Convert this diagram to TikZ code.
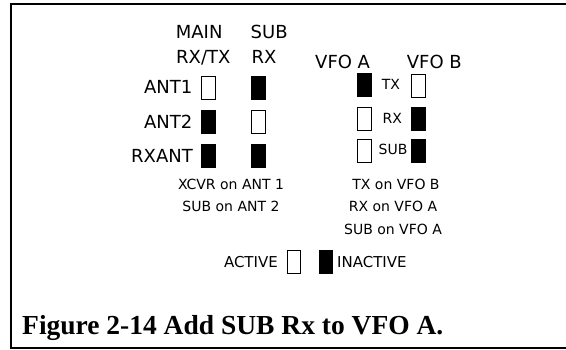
\documentclass[tikz,border=0pt]{standalone}
\usepackage{fontspec}
\setmainfont{DejaVu Sans}
\newfontfamily\capfont{Liberation Serif}
\begin{document}
\begin{tikzpicture}[x=1pt,y=1pt,
  big/.style={inner sep=0pt,font=\fontsize{18}{20}\selectfont},
  small/.style={inner sep=0pt,font=\fontsize{14}{16}\selectfont},
  mid/.style={inner sep=0pt,font=\fontsize{15}{17}\selectfont},
  onbox/.style={draw=black,line width=1pt,fill=white,minimum width=13.5pt,minimum height=23pt,inner sep=0pt},
  offbox/.style={draw=black,line width=1pt,fill=black,minimum width=13.5pt,minimum height=23pt,inner sep=0pt}]
\useasboundingbox (0,0) rectangle (566,350);
\fill[white] (0,0) rectangle (566,350);
% frame
\draw[line width=2.7pt] (566,346) -- (11,346) -- (11,2) -- (566,2);
% headers
\node[big,anchor=base west] (main) at (175.7,311.7) {MAIN};
\node[big,anchor=base west] (rxtx) at (176,286.7) {RX/TX};
\node[big,anchor=base west] (subh) at (250.5,311.7) {SUB};
\node[big,anchor=base west] (rxh) at (251.5,286.7) {RX};
\node[big,anchor=base west] (vfoa) at (315,281.7) {VFO A};
\node[big,anchor=base west] (vfob) at (406.7,281.7) {VFO B};
% row labels
\node[big,anchor=base east] (ant1) at (192.5,256.7) {ANT1};
\node[big,anchor=base east] (ant2) at (192.5,221.5) {ANT2};
\node[big,anchor=base east] (rxant) at (193,187.5) {RXANT};
% antenna boxes
\node[onbox]  (m1) at (208.3,261.7) {};
\node[offbox] (m2) at (208.3,227.5) {};
\node[offbox] (m3) at (208.3,194.2) {};
\node[offbox] (s1) at (258.3,261.7) {};
\node[onbox]  (s2) at (258.3,227.5) {};
\node[offbox] (s3) at (258.3,194.2) {};
% VFO boxes
\node[offbox] (a1) at (364.7,265) {};
\node[onbox]  (a2) at (364.7,230.8) {};
\node[onbox]  (a3) at (364.7,199) {};
\node[onbox]  (b1) at (418.5,264.2) {};
\node[offbox] (b2) at (418.5,230.5) {};
\node[offbox] (b3) at (418.5,198.6) {};
\node[small,anchor=base] (tx) at (391,260) {TX};
\node[small,anchor=base] (rx) at (392.3,226.7) {RX};
\node[small,anchor=base] (sub) at (393,195) {SUB};
% descriptions
\node[small,anchor=base] (d1) at (231,160) {XCVR on ANT 1};
\node[small,anchor=base] (d2) at (231,138.3) {SUB on ANT 2};
\node[small,anchor=base] (d3) at (396,160) {TX on VFO B};
\node[small,anchor=base] (d4) at (393,138.3) {RX on VFO A};
\node[small,anchor=base] (d5) at (393,115) {SUB on VFO A};
% legend
\node[onbox]  (act) at (294,88) {};
\node[offbox] (inact) at (326,88) {};
\node[mid,anchor=base east] (actl) at (278,82.5) {ACTIVE};
\node[mid,anchor=base west] (inactl) at (337,82.5) {INACTIVE};
% caption
\node[inner sep=0pt,anchor=base west,font=\capfont\bfseries\fontsize{27.5}{30}\selectfont] (cap) at (22,15) {Figure 2-14 Add SUB Rx to VFO A.};
\end{tikzpicture}
\end{document}
